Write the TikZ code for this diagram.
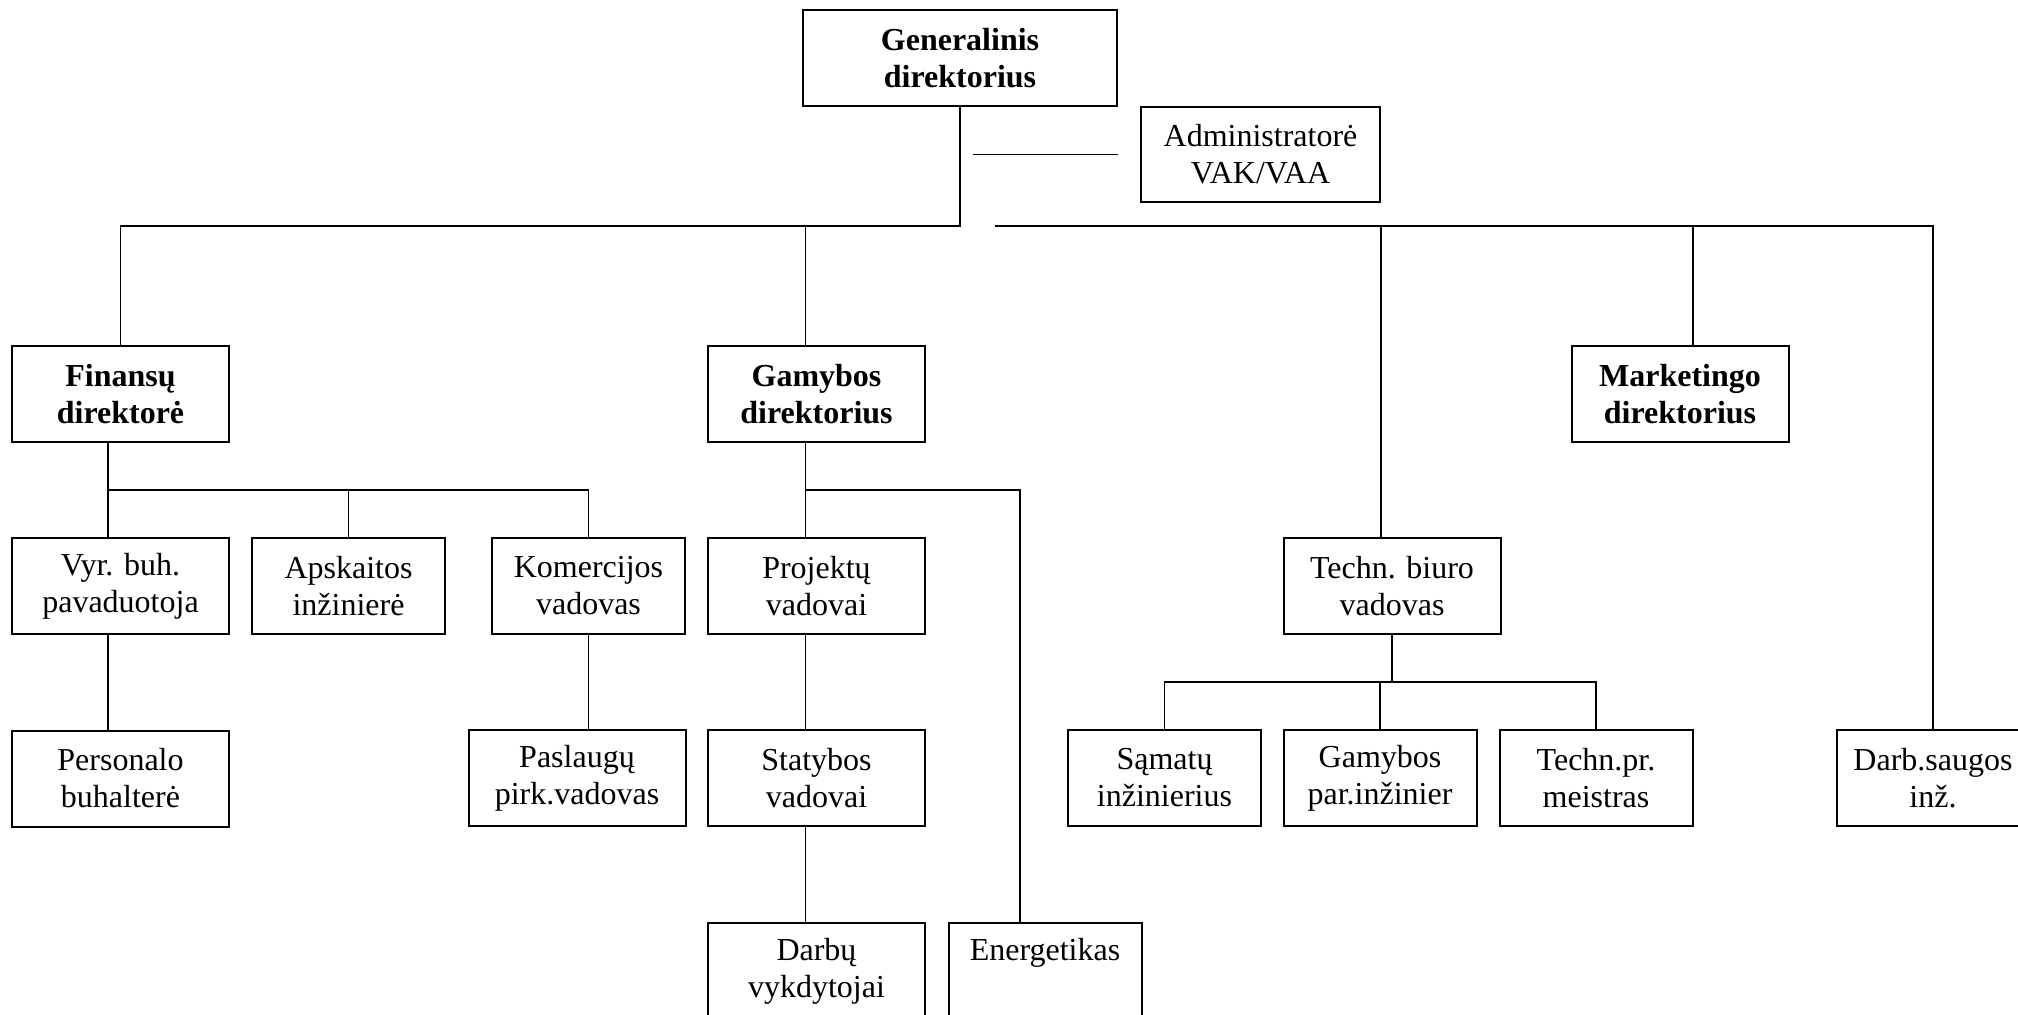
\documentclass[tikz,border=0pt]{standalone}
\usepackage{fontspec}
\setmainfont{Liberation Serif}
\begin{document}
\begin{tikzpicture}[x=0.5pt,y=-0.5pt,
  box/.style={draw,line width=1pt,align=center,inner sep=0pt,
    minimum width=96.5pt,minimum height=48pt,
    font=\fontsize{16pt}{18.5pt}\selectfont},
  wbox/.style={box,minimum width=108.5pt},
  vbox/.style={wbox,font=\fontsize{16pt}{18.5pt}\selectfont\bfseries},
  link/.style={line width=0.8pt}]
  \useasboundingbox (0,0) rectangle (2018,1015);

  % Vadovybė
  \node[vbox,minimum width=157pt] (gen) at (960,58) {Generalinis\\direktorius};
  \node[box,minimum width=119.5pt,minimum height=47.5pt] (adm) at (1260.5,154.5) {Administratorė\\VAK/VAA};

  % Direktoriai
  \node[vbox] (fin) at (120.5,394) {Finansų\\direktorė};
  \node[vbox] (gam) at (816.5,394) {Gamybos\\direktorius};
  \node[vbox] (mkt) at (1680,394) {Marketingo\\direktorius};

  % Finansų skyrius
  \node[wbox] (vyr) at (120.5,586) {Vyr. buh.\\pavaduotoja};
  \node[box] (apsk) at (348.5,586) {Apskaitos\\inžinierė};
  \node[box] (kom) at (588.5,586) {Komercijos\\vadovas};
  \node[wbox] (pers) at (120.5,778.5) {Personalo\\buhalterė};
  \node[wbox] (pasl) at (577,778) {Paslaugų\\pirk.vadovas};

  % Gamybos skyrius
  \node[wbox] (proj) at (816.5,586) {Projektų\\vadovai};
  \node[wbox] (stat) at (816.5,778) {Statybos\\vadovai};
  \node[wbox] (darbu) at (816.5,971) {Darbų\\vykdytojai};
  \node[box] (energ) at (1045,971) {Energetikas\\\phantom{vykdytojai}};

  % Techninis biuras
  \node[wbox] (tech) at (1392,586) {Techn. biuro\\vadovas};
  \node[box] (sam) at (1164.5,778) {Sąmatų\\inžinierius};
  \node[box] (gpar) at (1380,778) {Gamybos\\par.inžinier};
  \node[box] (tpr) at (1596,778) {Techn.pr.\\meistras};
  \node[box] (dsaug) at (1933,778) {Darb.saugos\\inž.};

  % Pagrindinės linijos
  \coordinate (bus) at (960,226);
  \coordinate (rbus) at (995,226);
  \draw[link] (gen.south) -- (bus) -| (fin.north);
  \draw[link] ([xshift=-5.5pt]gam.north) -- ([xshift=-5.5pt]gam.north |- bus);
  \draw[link] (rbus) -| (dsaug.north);
  \draw[link] ([xshift=-5.5pt]tech.north) -- ([xshift=-5.5pt]tech.north |- rbus);
  \draw[link] ([xshift=6.5pt]mkt.north) -- ([xshift=6.5pt]mkt.north |- rbus);
  \draw[link] (adm.west -| gen.east) -- ++(-145,0);

  % Finansų linijos
  \coordinate (fbus) at (0,490);
  \draw[link] ([xshift=-6.25pt]fin.south) -- ([xshift=-6.25pt]vyr.north);
  \draw[link] ([xshift=-6.25pt]fin.south |- fbus) -| (kom.north);
  \draw[link] (apsk.north) -- (apsk.north |- fbus);
  \draw[link] ([xshift=-6.25pt]vyr.south) -- ([xshift=-6.25pt]vyr.south |- pers.north);
  \draw[link] (kom.south) -- (kom.south |- pasl.north);

  % Gamybos linijos
  \coordinate (gbus) at (0,490);
  \draw[link] ([xshift=-5.5pt]gam.south) -- ([xshift=-5.5pt]proj.north);
  \draw[link] ([xshift=-5.5pt]proj.south) -- ([xshift=-5.5pt]stat.north);
  \draw[link] ([xshift=-5.5pt]stat.south) -- ([xshift=-5.5pt]darbu.north);
  \draw[link] ([xshift=-5.5pt]gam.south |- gbus) -| ([xshift=-12.5pt]energ.north);

  % Techninio biuro linijos
  \coordinate (tbus) at (0,682);
  \draw[link] (tech.south) -- (tech.south |- tbus);
  \draw[link] (sam.north) |- (tbus -| tpr.north) -- (tpr.north);
  \draw[link] (gpar.north) -- (gpar.north |- tbus);
\end{tikzpicture}
\end{document}
